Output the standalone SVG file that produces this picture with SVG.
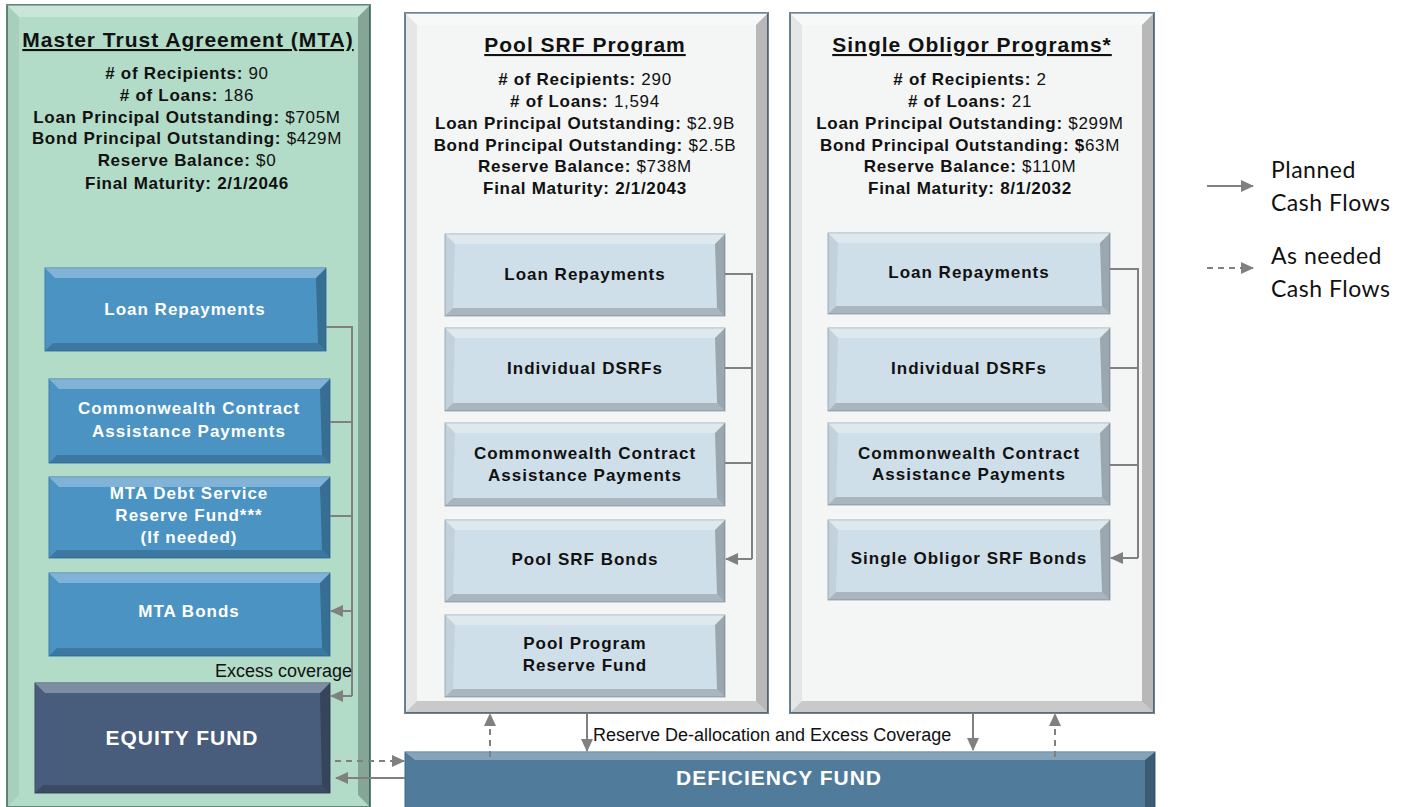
<svg xmlns="http://www.w3.org/2000/svg" width="1405" height="807" viewBox="0 0 1405 807">
<defs>
<marker id="ah" markerUnits="userSpaceOnUse" markerWidth="14" markerHeight="14" refX="12" refY="6" orient="auto">
<path d="M0,0 L13,6 L0,12 Z" fill="#808080"/>
</marker>
<style>
text{font-family:"Liberation Sans",Arial,sans-serif}
.st{font-size:17px;font-weight:bold;fill:#111;text-anchor:middle;letter-spacing:0.7px}
.st tspan.v{font-weight:normal}
.ttl{font-size:21px;font-weight:bold;fill:#111;text-anchor:middle;text-decoration:underline;letter-spacing:1px}
.wt{font-size:17px;font-weight:bold;fill:#fff;text-anchor:middle;letter-spacing:1px}
.bk{font-size:17px;font-weight:bold;fill:#111;text-anchor:middle;letter-spacing:1px}
.big{font-size:21px;letter-spacing:1px}
.lbl{font-size:18px;fill:#111}
.leg{font-family:Lato,"Liberation Sans",sans-serif;font-size:23px;fill:#111;letter-spacing:0.5px}
.bt{fill:#fff;opacity:0.3}
.bb{fill:#000;opacity:0.18}
.bl{fill:#000;opacity:0.06}
.br{fill:#000;opacity:0.25}
.ln{stroke:#808080;stroke-width:2;fill:none}
.dl{stroke:#808080;stroke-width:2;fill:none;stroke-dasharray:6,5}
.mta{fill:#b2dcc8;stroke:#5f8a7a;stroke-width:2}
.prog{fill:#f4f6f5;stroke:#6e8396;stroke-width:2}
.blue{fill:#4a93c3;stroke:#3c7fae;stroke-width:1}
.lite{fill:#cfdfe9;stroke:#9fb0bd;stroke-width:1}
.navy{fill:#485c7b;stroke:#3a4c68;stroke-width:1}
.def{fill:#517b9b;stroke:#3f6684;stroke-width:1}
</style>
</defs>

<g id="mta-panel">
<rect class="mta" x="7" y="5" width="363" height="802"/>
<polygon class="bt" points="7,5 370,5 358,17 19,17"/>
<polygon class="br" points="370,5 358,17 358,795 370,807"/>
<polygon class="bl" points="7,5 19,17 19,795 7,807"/>
<text class="ttl" x="188" y="47">Master Trust  Agreement (MTA)</text>
<text class="st" x="187" y="79"># of Recipients: <tspan class="v">90</tspan></text>
<text class="st" x="187" y="101"># of Loans: <tspan class="v">186</tspan></text>
<text class="st" x="187" y="123">Loan Principal Outstanding: <tspan class="v">$705M</tspan></text>
<text class="st" x="187" y="144">Bond Principal Outstanding: <tspan class="v">$429M</tspan></text>
<text class="st" x="187" y="166">Reserve Balance: <tspan class="v">$0</tspan></text>
<text class="st" x="187" y="189">Final Maturity: 2/1/2046</text>
</g>

<g id="mta-loan-repayments">
<rect class="blue" x="45" y="268" width="281" height="83"/>
<polygon class="bt" points="45,268 326,268 316,278 55,278"/>
<polygon class="bb" points="45,351 326,351 318,343 53,343"/>
<polygon class="br" points="326,268 316,278 318,343 326,351"/>
<text class="wt" x="185" y="315">Loan Repayments</text>
</g>

<g id="mta-contract-assistance">
<rect class="blue" x="49" y="379" width="281" height="84"/>
<polygon class="bt" points="49,379 330,379 320,389 59,389"/>
<polygon class="bb" points="49,463 330,463 322,455 57,455"/>
<polygon class="br" points="330,379 320,389 322,455 330,463"/>
<text class="wt" x="189" y="414">Commonwealth Contract</text>
<text class="wt" x="189" y="437">Assistance Payments</text>
</g>

<g id="mta-dsrf">
<rect class="blue" x="49" y="477" width="281" height="81"/>
<polygon class="bt" points="49,477 330,477 320,487 59,487"/>
<polygon class="bb" points="49,558 330,558 322,550 57,550"/>
<polygon class="br" points="330,477 320,487 322,550 330,558"/>
<text class="wt" x="189" y="499">MTA Debt Service</text>
<text class="wt" x="189" y="521">Reserve Fund***</text>
<text class="wt" x="189" y="543">(If needed)</text>
</g>

<g id="mta-bonds">
<rect class="blue" x="49" y="573" width="281" height="83"/>
<polygon class="bt" points="49,573 330,573 320,583 59,583"/>
<polygon class="bb" points="49,656 330,656 322,648 57,648"/>
<polygon class="br" points="330,573 320,583 322,648 330,656"/>
<text class="wt" x="189" y="617">MTA Bonds</text>
</g>

<g id="equity-fund">
<rect class="navy" x="35" y="683" width="295" height="110"/>
<polygon class="bt" points="35,683 330,683 320,693 45,693"/>
<polygon class="bb" points="35,793 330,793 322,785 43,785"/>
<polygon class="br" points="330,683 320,693 322,785 330,793"/>
<text class="wt big" x="182" y="745">EQUITY  FUND</text>
</g>

<g id="pool-panel">
<rect class="prog" x="405" y="13" width="363" height="700"/>
<polygon class="bt" points="405,13 768,13 756,25 417,25"/>
<polygon class="bb" points="405,713 768,713 756,701 417,701"/>
<polygon class="br" points="768,13 756,25 756,701 768,713"/>
<polygon class="bl" points="405,13 417,25 417,701 405,713"/>
<text class="ttl" x="585" y="52">Pool SRF  Program</text>
<text class="st" x="585" y="85"># of Recipients: <tspan class="v">290</tspan></text>
<text class="st" x="585" y="107"># of Loans: <tspan class="v">1,594</tspan></text>
<text class="st" x="585" y="129">Loan Principal Outstanding: <tspan class="v">$2.9B</tspan></text>
<text class="st" x="585" y="151">Bond Principal Outstanding: <tspan class="v">$2.5B</tspan></text>
<text class="st" x="585" y="172">Reserve Balance: <tspan class="v">$738M</tspan></text>
<text class="st" x="585" y="194">Final Maturity: 2/1/2043</text>
</g>

<g id="pool-loan-repayments">
<rect class="lite" x="445" y="234" width="280" height="82"/>
<polygon class="bt" points="445,234 725,234 715,244 455,244"/>
<polygon class="bb" points="445,316 725,316 717,308 453,308"/>
<polygon class="br" points="725,234 715,244 717,308 725,316"/>
<polygon class="bl" points="445,234 455,244 453,308 445,316"/>
<text class="bk" x="585" y="280">Loan Repayments</text>
</g>

<g id="pool-individual-dsrfs">
<rect class="lite" x="445" y="328" width="280" height="83"/>
<polygon class="bt" points="445,328 725,328 715,338 455,338"/>
<polygon class="bb" points="445,411 725,411 717,403 453,403"/>
<polygon class="br" points="725,328 715,338 717,403 725,411"/>
<polygon class="bl" points="445,328 455,338 453,403 445,411"/>
<text class="bk" x="585" y="374">Individual DSRFs</text>
</g>

<g id="pool-contract-assistance">
<rect class="lite" x="445" y="423" width="280" height="83"/>
<polygon class="bt" points="445,423 725,423 715,433 455,433"/>
<polygon class="bb" points="445,506 725,506 717,498 453,498"/>
<polygon class="br" points="725,423 715,433 717,498 725,506"/>
<polygon class="bl" points="445,423 455,433 453,498 445,506"/>
<text class="bk" x="585" y="459">Commonwealth Contract</text>
<text class="bk" x="585" y="481">Assistance Payments</text>
</g>

<g id="pool-srf-bonds">
<rect class="lite" x="445" y="520" width="280" height="82"/>
<polygon class="bt" points="445,520 725,520 715,530 455,530"/>
<polygon class="bb" points="445,602 725,602 717,594 453,594"/>
<polygon class="br" points="725,520 715,530 717,594 725,602"/>
<polygon class="bl" points="445,520 455,530 453,594 445,602"/>
<text class="bk" x="585" y="565">Pool SRF Bonds</text>
</g>

<g id="pool-program-reserve-fund">
<rect class="lite" x="445" y="615" width="280" height="82"/>
<polygon class="bt" points="445,615 725,615 715,625 455,625"/>
<polygon class="bb" points="445,697 725,697 717,689 453,689"/>
<polygon class="br" points="725,615 715,625 717,689 725,697"/>
<polygon class="bl" points="445,615 455,625 453,689 445,697"/>
<text class="bk" x="585" y="649">Pool Program</text>
<text class="bk" x="585" y="671">Reserve Fund</text>
</g>

<g id="single-panel">
<rect class="prog" x="790" y="13" width="364" height="700"/>
<polygon class="bt" points="790,13 1154,13 1142,25 802,25"/>
<polygon class="bb" points="790,713 1154,713 1142,701 802,701"/>
<polygon class="br" points="1154,13 1142,25 1142,701 1154,713"/>
<polygon class="bl" points="790,13 802,25 802,701 790,713"/>
<text class="ttl" x="972" y="52">Single Obligor Programs*</text>
<text class="st" x="970" y="85"># of Recipients: <tspan class="v">2</tspan></text>
<text class="st" x="970" y="107"># of Loans: <tspan class="v">21</tspan></text>
<text class="st" x="970" y="129">Loan Principal Outstanding: <tspan class="v">$299M</tspan></text>
<text class="st" x="970" y="151">Bond Principal Outstanding: $<tspan class="v">63M</tspan></text>
<text class="st" x="970" y="172">Reserve Balance: <tspan class="v">$110M</tspan></text>
<text class="st" x="970" y="194">Final Maturity: 8/1/2032</text>
</g>

<g id="single-loan-repayments">
<rect class="lite" x="828" y="233" width="282" height="81"/>
<polygon class="bt" points="828,233 1110,233 1100,243 838,243"/>
<polygon class="bb" points="828,314 1110,314 1102,306 836,306"/>
<polygon class="br" points="1110,233 1100,243 1102,306 1110,314"/>
<polygon class="bl" points="828,233 838,243 836,306 828,314"/>
<text class="bk" x="969" y="278">Loan Repayments</text>
</g>

<g id="single-individual-dsrfs">
<rect class="lite" x="828" y="328" width="282" height="83"/>
<polygon class="bt" points="828,328 1110,328 1100,338 838,338"/>
<polygon class="bb" points="828,411 1110,411 1102,403 836,403"/>
<polygon class="br" points="1110,328 1100,338 1102,403 1110,411"/>
<polygon class="bl" points="828,328 838,338 836,403 828,411"/>
<text class="bk" x="969" y="374">Individual DSRFs</text>
</g>

<g id="single-contract-assistance">
<rect class="lite" x="828" y="423" width="282" height="82"/>
<polygon class="bt" points="828,423 1110,423 1100,433 838,433"/>
<polygon class="bb" points="828,505 1110,505 1102,497 836,497"/>
<polygon class="br" points="1110,423 1100,433 1102,497 1110,505"/>
<polygon class="bl" points="828,423 838,433 836,497 828,505"/>
<text class="bk" x="969" y="459">Commonwealth Contract</text>
<text class="bk" x="969" y="480">Assistance Payments</text>
</g>

<g id="single-obligor-srf-bonds">
<rect class="lite" x="828" y="520" width="282" height="80"/>
<polygon class="bt" points="828,520 1110,520 1100,530 838,530"/>
<polygon class="bb" points="828,600 1110,600 1102,592 836,592"/>
<polygon class="br" points="1110,520 1100,530 1102,592 1110,600"/>
<polygon class="bl" points="828,520 838,530 836,592 828,600"/>
<text class="bk" x="969" y="564">Single Obligor SRF Bonds</text>
</g>

<g id="deficiency-fund">
<rect class="def" x="405" y="752" width="750" height="58"/>
<polygon class="bt" points="405,752 1155,752 1145,760 415,760"/>
<polygon class="br" points="1155,752 1145,760 1145,807 1155,807"/>
<text class="wt big" x="779" y="785">DEFICIENCY  FUND</text>
</g>

<g id="connectors">
<path class="ln" d="M326,327 H352 V696"/>
<path class="ln" d="M330,422 H352"/>
<path class="ln" d="M330,516 H352"/>
<path class="ln" d="M352,611 H331" marker-end="url(#ah)"/>
<path class="ln" d="M352,696 H331" marker-end="url(#ah)"/>
<text class="lbl" x="215" y="677">Excess coverage</text>
<path class="ln" d="M725,274 H752 V559"/>
<path class="ln" d="M725,368 H752"/>
<path class="ln" d="M725,463 H752"/>
<path class="ln" d="M752,559 H726" marker-end="url(#ah)"/>
<path class="ln" d="M1110,269 H1138 V558"/>
<path class="ln" d="M1110,368 H1138"/>
<path class="ln" d="M1110,465 H1138"/>
<path class="ln" d="M1138,558 H1111" marker-end="url(#ah)"/>
<path class="ln" d="M587,713 V751" marker-end="url(#ah)"/>
<path class="dl" d="M490,757 V714" marker-end="url(#ah)"/>
<path class="ln" d="M973,713 V750" marker-end="url(#ah)"/>
<path class="dl" d="M1055,757 V714" marker-end="url(#ah)"/>
<text class="lbl" x="593" y="741">Reserve De-allocation and Excess Coverage</text>
<path class="dl" d="M335,761 H404" marker-end="url(#ah)"/>
<path class="ln" d="M405,778 H336" marker-end="url(#ah)"/>
</g>

<g id="legend">
<path class="ln" d="M1207,186 H1253" marker-end="url(#ah)"/>
<text class="leg" x="1271" y="178">Planned</text>
<text class="leg" x="1271" y="211">Cash Flows</text>
<path class="dl" d="M1207,268 H1253" marker-end="url(#ah)"/>
<text class="leg" x="1271" y="264">As needed</text>
<text class="leg" x="1271" y="297">Cash Flows</text>
</g>
</svg>
